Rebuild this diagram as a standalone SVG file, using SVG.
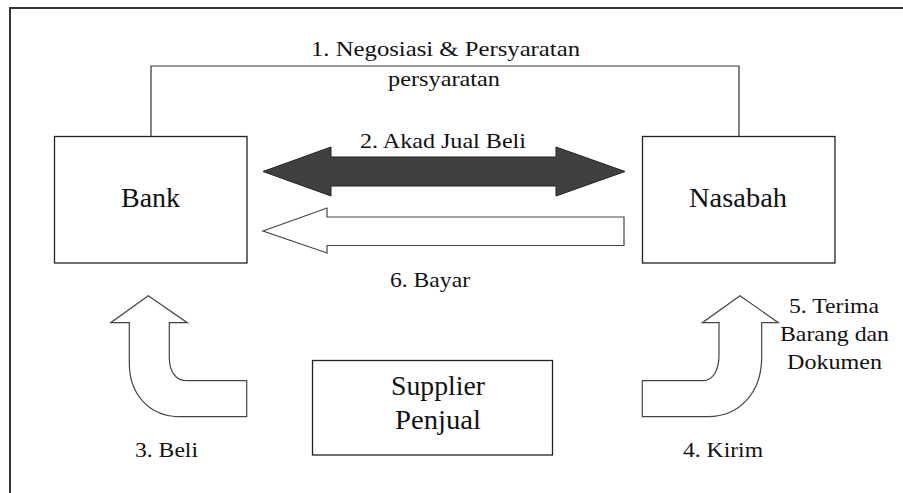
<svg xmlns="http://www.w3.org/2000/svg" width="903" height="493" viewBox="0 0 903 493">
  <style>
    text { font-family: "Liberation Serif", "DejaVu Serif", serif; fill: #111; }
    .node { fill: #fff; stroke: #222; stroke-width: 1.3; }
    .big { font-size: 28px; text-anchor: middle; }
    .lbl { font-size: 22px; text-anchor: middle; }
    .link { fill: none; stroke: #333; stroke-width: 1.2; }
    .solid { fill: #404040; stroke: #222; stroke-width: 1; }
    .hollow { fill: #fff; stroke: #444; stroke-width: 1.2; stroke-linejoin: miter; }
    .frame { fill: none; stroke: #333; stroke-width: 2; }
  </style>

  <rect width="903" height="493" fill="#fff"/>

  <!-- page frame (top and left edges only) -->
  <path class="frame" d="M10,493 L10,8 L903,8"/>

  <!-- connectors -->
  <g id="connectors">
    <path class="link" d="M151,136 L151,66 L739,66 L739,136"/>
    <!-- 2. double-headed solid arrow -->
    <path class="solid" d="M263,171.5 L331,147 L331,157 L556,157 L556,147 L625,171.5 L556,196 L556,186 L331,186 L331,196 Z"/>
    <!-- 6. hollow arrow towards Bank -->
    <path class="hollow" d="M263,231 L327,208 L327,217 L624,217 L624,245.5 L327,245.5 L327,253 Z"/>
    <!-- 3. curved hollow arrow up to Bank -->
    <path class="hollow" d="M148.3,295.7 L187.3,322.7 L169.3,322.7 L169.3,357 C169.3,372 176,380.7 186,380.7 L246.7,380.7 L246.7,416.7 L180,416.7 C150,416.7 129.3,395 129.3,363 L129.3,322.7 L110.7,322.7 Z"/>
    <!-- 4. curved hollow arrow up to Nasabah -->
    <path class="hollow" d="M740,295.7 L778.3,322.7 L761.7,322.7 L761.7,357 C761.7,392 740,416.7 708,416.7 L642.3,416.7 L642.3,380.7 L703,380.7 C713,380.7 719,370 719,355 L719,322.7 L702.3,322.7 Z"/>
  </g>

  <!-- connector labels -->
  <g id="labels" font-family="Liberation Serif, DejaVu Serif, serif">
    <text class="lbl" x="445.5" y="56" textLength="269" lengthAdjust="spacingAndGlyphs">1. Negosiasi &amp; Persyaratan</text>
    <text class="lbl" x="444" y="86" textLength="112" lengthAdjust="spacingAndGlyphs">persyaratan</text>
    <rect x="356" y="130" width="198" height="26" fill="#fff"/>
    <text class="lbl" x="443" y="148" textLength="166" lengthAdjust="spacingAndGlyphs">2. Akad Jual Beli</text>
    <text class="lbl" x="430" y="287" textLength="80" lengthAdjust="spacingAndGlyphs">6. Bayar</text>
    <text class="lbl" x="166.5" y="457" textLength="63" lengthAdjust="spacingAndGlyphs">3. Beli</text>
    <text class="lbl" x="723" y="457" textLength="80" lengthAdjust="spacingAndGlyphs">4. Kirim</text>
    <text class="lbl" x="834" y="313" textLength="90" lengthAdjust="spacingAndGlyphs">5. Terima</text>
    <text class="lbl" x="834.5" y="341" textLength="109" lengthAdjust="spacingAndGlyphs">Barang dan</text>
    <text class="lbl" x="834.5" y="369" textLength="95" lengthAdjust="spacingAndGlyphs">Dokumen</text>
  </g>

  <g id="bank" font-family="Liberation Serif, DejaVu Serif, serif">
    <rect class="node" x="54.5" y="136.5" width="192.5" height="126.5"/>
    <text class="big" x="150.5" y="207" textLength="59" lengthAdjust="spacingAndGlyphs">Bank</text>
  </g>

  <g id="nasabah" font-family="Liberation Serif, DejaVu Serif, serif">
    <rect class="node" x="642.5" y="136.5" width="192.5" height="126.5"/>
    <text class="big" x="738" y="207" textLength="98" lengthAdjust="spacingAndGlyphs">Nasabah</text>
  </g>

  <g id="supplier" font-family="Liberation Serif, DejaVu Serif, serif">
    <rect class="node" x="312.5" y="360.5" width="240" height="94.5"/>
    <text class="big" x="438" y="395" textLength="94" lengthAdjust="spacingAndGlyphs">Supplier</text>
    <text class="big" x="438" y="429" textLength="86" lengthAdjust="spacingAndGlyphs">Penjual</text>
  </g>
</svg>
